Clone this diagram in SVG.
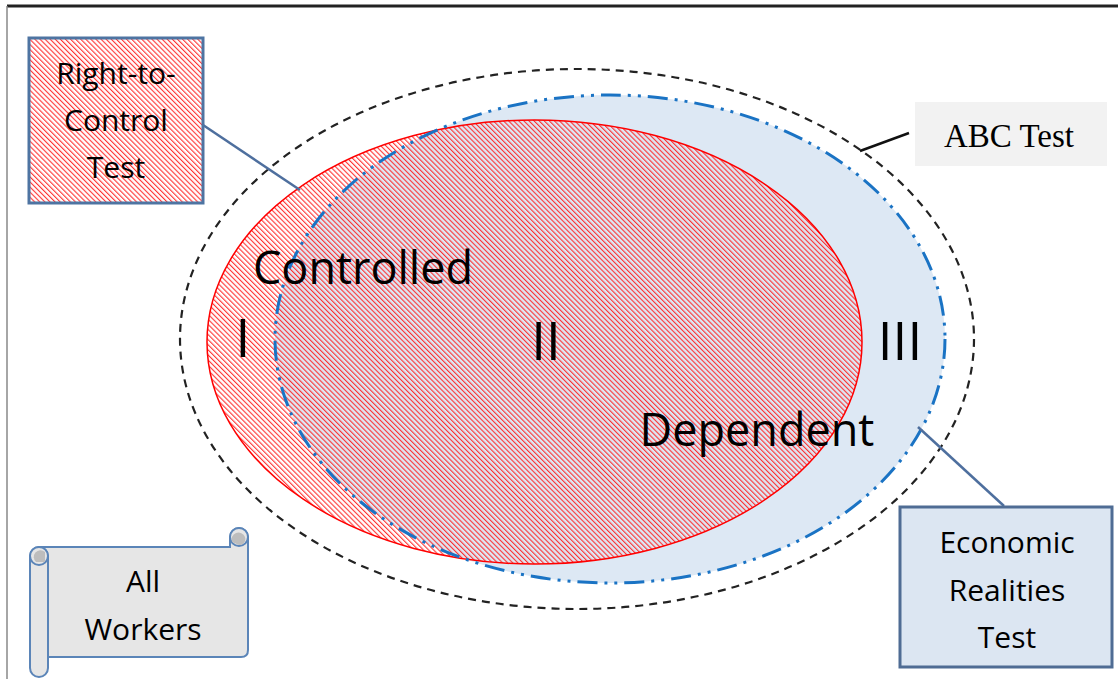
<svg xmlns="http://www.w3.org/2000/svg" width="1118" height="679" viewBox="0 0 1118 679">
<defs>
<pattern id="hatch" width="3.6" height="3.6" patternUnits="userSpaceOnUse" patternTransform="rotate(-45)">
<line x1="0.6" y1="0" x2="0.6" y2="3.6" stroke="#FF1A1A" stroke-width="1"/>
</pattern>
<style>
.lbl{font-family:"Open Sans","Liberation Sans",sans-serif;fill:#000;text-anchor:middle}
.big{font-size:45px}
.num{font-size:53px}
.box{font-size:30px}
.conn{stroke:#4E6F9E;stroke-width:2.5;fill:none}
</style>
</defs>
<rect width="1118" height="679" fill="#fff"/>
<g id="frame">
<line x1="7" y1="6" x2="1118" y2="6" stroke="#222" stroke-width="3"/>
<line x1="7" y1="6" x2="7" y2="679" stroke="#888" stroke-width="1.5"/>
</g>
<g id="economic-realities-region">
<ellipse cx="610" cy="339" rx="335" ry="244" fill="#DDE8F4"/>
</g>
<g id="right-to-control-region">
<ellipse cx="534.5" cy="342" rx="327.5" ry="222" fill="url(#hatch)" stroke="#FF0000" stroke-width="1.5"/>
</g>
<g id="economic-realities-outline">
<ellipse cx="610" cy="339" rx="335" ry="244" fill="none" stroke="#1A73C4" stroke-width="3" stroke-dasharray="20 7 3 7 3 7"/>
</g>
<g id="abc-region">
<ellipse cx="577" cy="339" rx="397" ry="270" fill="none" stroke="#222" stroke-width="2.2" stroke-dasharray="8 6"/>
</g>
<g id="connectors">
<line class="conn" x1="203" y1="125" x2="300" y2="190"/>
<line x1="860" y1="151" x2="909" y2="133" stroke="#111" stroke-width="2.5"/>
<line class="conn" x1="918" y1="427" x2="1004" y2="506"/>
</g>
<g id="labels">
<text class="lbl big" x="363" y="284">Controlled</text>
<text class="lbl big" x="757" y="446">Dependent</text>
<text class="lbl num" x="243" y="357">I</text>
<text class="lbl num" x="546" y="360">II</text>
<text class="lbl num" x="900" y="360">III</text>
</g>
<g id="right-to-control-test">
<rect x="29" y="38" width="174" height="165" fill="#fff"/>
<rect x="29" y="38" width="174" height="165" fill="url(#hatch)" stroke="#4E74A2" stroke-width="3"/>
<text class="lbl box" x="116" y="84">Right-to-</text>
<text class="lbl box" x="116" y="131">Control</text>
<text class="lbl box" x="116" y="178">Test</text>
</g>
<g id="abc-test">
<rect x="915" y="102" width="192" height="64" fill="#F2F2F2"/>
<text x="1009" y="147" font-family="'Liberation Serif',serif" font-size="33" text-anchor="middle" fill="#000">ABC Test</text>
</g>
<g id="economic-realities-test">
<rect x="900" y="507" width="212" height="160" fill="#DCE6F2" stroke="#4F6C94" stroke-width="3"/>
<text class="lbl box" x="1007" y="553">Economic</text>
<text class="lbl box" x="1007" y="601">Realities</text>
<text class="lbl box" x="1007" y="648">Test</text>
</g>
<g id="all-workers" stroke="#5B85B8" stroke-width="2">
<path d="M39,547 H230 V537 A9,9 0 0 1 248,537 V650 Q248,657 241,657 H48 Z" fill="#E6E6E6"/>
<circle cx="239" cy="537" r="9" fill="#E6E6E6"/>
<path d="M232,542 A6,6 0 0 1 245,537 A6,6 0 0 1 239,545 Z" fill="#BDBDBD" stroke="none"/>
<rect x="30" y="547" width="18" height="130" rx="9" fill="#E6E6E6"/>
<path d="M30,556 A9,9 0 0 1 48,556 A9,9 0 0 1 30,556 Z" fill="#E6E6E6"/>
<path d="M36,562 A6,6 0 0 1 45,552 V562 Z" fill="#BDBDBD" stroke="none"/>
<text class="lbl box" x="143" y="592" stroke="none">All</text>
<text class="lbl box" x="143" y="640" stroke="none">Workers</text>
</g>
</svg>
